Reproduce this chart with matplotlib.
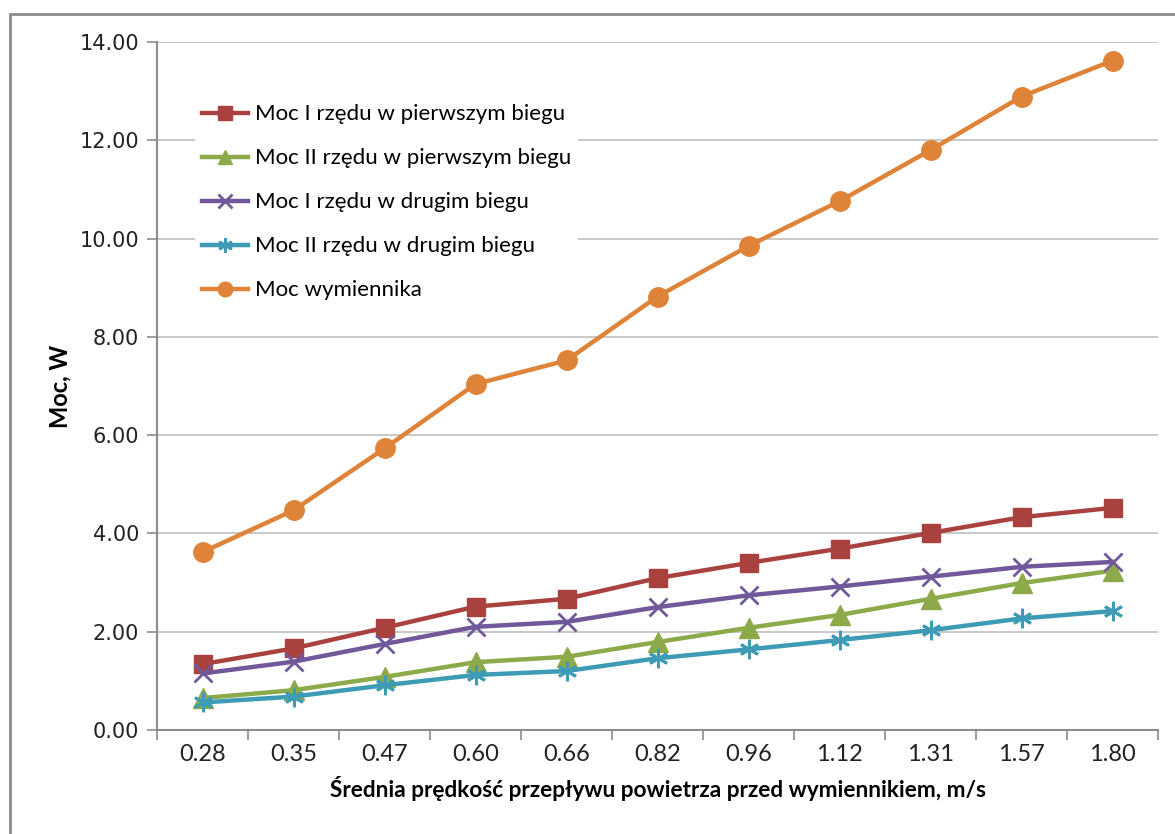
import numpy as np
import matplotlib.pyplot as plt
from matplotlib.patches import Rectangle

# data
speeds = ["0.28", "0.35", "0.47", "0.60", "0.66", "0.82", "0.96", "1.12", "1.31", "1.57", "1.80"]
moc_I_pierwszy = [1.34, 1.66, 2.08, 2.51, 2.67, 3.09, 3.40, 3.69, 4.01, 4.33, 4.52]
moc_II_pierwszy = [0.65, 0.81, 1.08, 1.38, 1.49, 1.79, 2.08, 2.34, 2.67, 2.99, 3.24]
moc_I_drugi = [1.15, 1.39, 1.75, 2.10, 2.20, 2.50, 2.74, 2.92, 3.12, 3.32, 3.42]
moc_II_drugi = [0.56, 0.68, 0.91, 1.12, 1.20, 1.46, 1.64, 1.83, 2.03, 2.27, 2.42]
moc_wymiennika = [3.62, 4.47, 5.73, 7.04, 7.52, 8.82, 9.85, 10.76, 11.80, 12.89, 13.62]

labels = ["Moc I rzędu w pierwszym biegu", "Moc II rzędu w pierwszym biegu",
          "Moc I rzędu w drugim biegu", "Moc II rzędu w drugim biegu", "Moc wymiennika"]


def main():
    fig = plt.figure(figsize=(11.75, 8.34), dpi=100)
    ax = fig.add_axes([157 / 1175, 1 - 730 / 834, (1158 - 157) / 1175, (730 - 42) / 834])

    # outer chart frame (cut at right and bottom like in the source)
    fig.patches.append(Rectangle((10 / 1175, -0.05), 1.2, 1.05 - 14 / 834,
                                 transform=fig.transFigure, fill=False,
                                 edgecolor="#8c8c8c", linewidth=2))

    x = np.arange(len(speeds))
    styles = [
        (moc_I_pierwszy, "#A9423F", "s", 13, 1),
        (moc_II_pierwszy, "#8DAA4A", "^", 14, 1),
        (moc_I_drugi, "#71589A", "x", 13, 2),
        (moc_II_drugi, "#3E9BB5", (6, 2, 0), 14, 2),
        (moc_wymiennika, "#DE8338", "o", 14, 1),
    ]
    for (vals, col, mk, ms, mew), lab in zip(styles, labels):
        ax.plot(x, vals, color=col, lw=3.2, marker=mk, ms=ms, mew=mew,
                mec=col, mfc=col, label=lab, zorder=3)

    ax.set_xlim(-0.5, len(speeds) - 0.5)
    ax.set_ylim(0, 14)
    ax.set_yticks(np.arange(0, 14.1, 2))
    ax.set_yticklabels(["%.2f" % v for v in np.arange(0, 14.1, 2)],
                       fontsize=15, family="DejaVu Sans", color="#222222")
    ax.set_xticks(np.arange(-0.5, len(speeds), 1))
    ax.set_xticklabels([])
    ax.set_xticks(x, minor=True)
    ax.set_xticklabels(speeds, minor=True, fontsize=17, family="Lato", color="#222222")
    ax.tick_params(axis="x", which="major", length=7, color="#8c8c8c", width=1.2)
    ax.tick_params(axis="x", which="minor", length=0, pad=10)
    ax.tick_params(axis="y", length=7, color="#8c8c8c", width=1.2, pad=6)

    ax.grid(axis="y", color="#bfbfbf", lw=1.2, zorder=0)
    ax.set_axisbelow(True)
    for s in ["top", "right"]:
        ax.spines[s].set_visible(False)
    for s in ["left", "bottom"]:
        ax.spines[s].set_color("#8c8c8c")
        ax.spines[s].set_linewidth(1.5)

    ax.set_xlabel("Średnia prędkość przepływu powietrza przed wymiennikiem, m/s",
                  fontsize=16.3, fontweight="bold", family="Lato", labelpad=8)
    ax.set_ylabel("Moc, W", fontsize=17, fontweight="bold", family="Lato", labelpad=6)

    leg = ax.legend(loc="upper left", bbox_to_anchor=(0.027, 0.935), frameon=True,
                    prop={"family": "Lato", "size": 16}, handlelength=2.1,
                    labelspacing=1.08, handletextpad=0.3, markerscale=0.75,
                    borderpad=0.3)
    leg.get_frame().set_edgecolor("none")
    leg.get_frame().set_facecolor("white")
    leg.get_frame().set_alpha(1)

    fig.savefig("out.png", dpi=100)


if __name__ == "__main__":
    main()
